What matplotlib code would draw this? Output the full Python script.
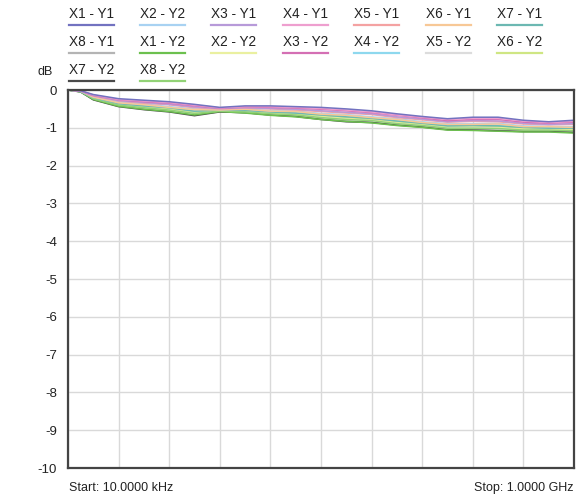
import numpy as np
import matplotlib
matplotlib.use("Agg")
import matplotlib.pyplot as plt
from matplotlib.lines import Line2D

plt.rcParams["font.family"] = ["Liberation Sans", "DejaVu Sans"]

# frequency points in MHz (10 kHz .. 1 GHz, linear sweep)
freq = [0.01, 25, 50, 100, 150, 200, 250, 300, 350, 400, 450, 500,
        550, 600, 650, 700, 750, 800, 850, 900, 950, 1000]

trace_names = ["X1 - Y1", "X2 - Y2", "X3 - Y1", "X4 - Y1", "X5 - Y1", "X6 - Y1", "X7 - Y1",
               "X8 - Y1", "X1 - Y2", "X2 - Y2", "X3 - Y2", "X4 - Y2", "X5 - Y2", "X6 - Y2",
               "X7 - Y2", "X8 - Y2"]
trace_colors = ["#7272c0", "#a8d2f2", "#b79ad9", "#ee9fcf", "#f4a2a2", "#f7c896", "#6cb8b2",
                "#b4b4b4", "#6cc04e", "#eaf0a0", "#d46fb4", "#8ed8ee", "#dcdcdc", "#cfe683",
                "#4a4a4a", "#92d276"]

x1y1 = [0, -0.02, -0.12, -0.23, -0.27, -0.31, -0.38, -0.46, -0.42, -0.42, -0.44, -0.46, -0.50, -0.55, -0.63, -0.70, -0.76, -0.72, -0.72, -0.80, -0.84, -0.80]
x2y2a = [0, -0.03, -0.18, -0.31, -0.37, -0.44, -0.50, -0.52, -0.50, -0.55, -0.56, -0.62, -0.65, -0.71, -0.76, -0.84, -0.89, -0.89, -0.88, -0.95, -0.96, -0.97]
x3y1 = [0, -0.03, -0.15, -0.28, -0.33, -0.38, -0.45, -0.49, -0.47, -0.49, -0.51, -0.55, -0.59, -0.63, -0.71, -0.77, -0.84, -0.81, -0.82, -0.88, -0.91, -0.89]
x4y1 = [0, -0.02, -0.13, -0.25, -0.29, -0.33, -0.40, -0.47, -0.44, -0.44, -0.46, -0.49, -0.53, -0.58, -0.66, -0.72, -0.78, -0.75, -0.75, -0.82, -0.86, -0.83]
x5y1 = [0, -0.03, -0.16, -0.29, -0.35, -0.39, -0.47, -0.50, -0.48, -0.50, -0.53, -0.57, -0.61, -0.65, -0.73, -0.79, -0.85, -0.83, -0.84, -0.90, -0.92, -0.91]
x6y1 = [0, -0.03, -0.19, -0.34, -0.39, -0.46, -0.52, -0.53, -0.51, -0.56, -0.57, -0.64, -0.67, -0.73, -0.78, -0.86, -0.91, -0.91, -0.90, -0.97, -0.97, -0.99]
x7y1 = [0, -0.04, -0.20, -0.36, -0.42, -0.47, -0.56, -0.53, -0.54, -0.58, -0.61, -0.66, -0.71, -0.75, -0.82, -0.88, -0.95, -0.94, -0.95, -0.99, -1.01, -1.01]
x8y1 = [0, -0.05, -0.25, -0.42, -0.50, -0.56, -0.66, -0.57, -0.60, -0.66, -0.69, -0.76, -0.81, -0.85, -0.92, -0.97, -1.04, -1.04, -1.06, -1.08, -1.08, -1.11]
x1y2 = [0, -0.05, -0.25, -0.43, -0.51, -0.57, -0.66, -0.57, -0.61, -0.67, -0.71, -0.78, -0.83, -0.87, -0.94, -0.99, -1.06, -1.07, -1.09, -1.11, -1.11, -1.14]
x2y2b = [0, -0.04, -0.22, -0.37, -0.44, -0.49, -0.58, -0.54, -0.56, -0.60, -0.63, -0.69, -0.74, -0.77, -0.85, -0.90, -0.97, -0.96, -0.98, -1.02, -1.03, -1.04]
x3y2 = [0, -0.02, -0.14, -0.26, -0.31, -0.35, -0.42, -0.48, -0.45, -0.46, -0.48, -0.51, -0.55, -0.60, -0.67, -0.74, -0.81, -0.78, -0.78, -0.85, -0.88, -0.85]
x4y2 = [0, -0.04, -0.20, -0.35, -0.41, -0.46, -0.55, -0.53, -0.53, -0.56, -0.60, -0.65, -0.69, -0.73, -0.81, -0.86, -0.93, -0.92, -0.93, -0.98, -1.00, -1.00]
x5y2 = [0, -0.04, -0.22, -0.38, -0.45, -0.50, -0.60, -0.55, -0.56, -0.61, -0.64, -0.70, -0.75, -0.79, -0.86, -0.92, -0.98, -0.98, -0.99, -1.03, -1.04, -1.05]
x6y2 = [0, -0.04, -0.21, -0.36, -0.43, -0.48, -0.57, -0.54, -0.55, -0.58, -0.62, -0.67, -0.72, -0.76, -0.83, -0.89, -0.95, -0.94, -0.96, -1.00, -1.01, -1.02]
x7y2 = [0, -0.05, -0.26, -0.44, -0.52, -0.58, -0.68, -0.58, -0.60, -0.66, -0.70, -0.78, -0.84, -0.86, -0.93, -0.98, -1.05, -1.06, -1.08, -1.10, -1.10, -1.12]
x8y2 = [0, -0.04, -0.23, -0.40, -0.47, -0.53, -0.62, -0.56, -0.58, -0.63, -0.66, -0.73, -0.78, -0.81, -0.89, -0.94, -1.01, -1.01, -1.02, -1.06, -1.06, -1.08]

traces = [x1y1, x2y2a, x3y1, x4y1, x5y1, x6y1, x7y1, x8y1,
          x1y2, x2y2b, x3y2, x4y2, x5y2, x6y2, x7y2, x8y2]

y_ticks = [0, -1, -2, -3, -4, -5, -6, -7, -8, -9, -10]

W, H = 582, 499
fig = plt.figure(figsize=(W / 100, H / 100), dpi=100)
ax = fig.add_axes([68 / W, 1 - 468 / H, 506 / W, 378 / H])

# draw bottom traces first so the upper ones sit on top
order = [12, 9, 13, 7, 14, 8, 15, 11, 6, 1, 5, 4, 2, 10, 3, 0]
for i in order:
    ax.plot(freq, traces[i], color=trace_colors[i], lw=1.1, solid_joinstyle="round")

ax.set_xlim(0.01, 1000)
ax.set_ylim(-10, 0)
ax.set_xticks(np.linspace(0.01, 1000, 11))
ax.set_xticklabels([])
ax.set_yticks(y_ticks)
ax.set_yticklabels([str(v) for v in y_ticks], fontsize=9.5, color="#222222")
ax.tick_params(axis="both", length=0, pad=8)
ax.grid(True, color="#d9d9d9", lw=1)
ax.set_axisbelow(True)
for s in ax.spines.values():
    s.set_color("#444444")
    s.set_linewidth(1.6)

# legend grid on top
col_x = [69, 140, 211, 283, 354, 426, 497]
row_y = [14, 42, 70]
for k, (name, col) in enumerate(zip(trace_names, trace_colors)):
    r, c = divmod(k, 7)
    x0 = col_x[c] / W
    fig.text(x0, 1 - row_y[r] / H, name, fontsize=9.8, color="#222222", va="center", ha="left")
    yl = 1 - (row_y[r] + 11) / H
    fig.add_artist(Line2D([x0, x0 + 45 / W], [yl, yl], color=col, lw=1.6))

fig.text(37 / W, 1 - 72 / H, "dB", fontsize=9, color="#222222", va="center", ha="left")
fig.text(69 / W, 1 - 488 / H, "Start: 10.0000 kHz", fontsize=9, color="#222222", va="center", ha="left")
fig.text(574 / W, 1 - 488 / H, "Stop: 1.0000 GHz", fontsize=9, color="#222222", va="center", ha="right")

fig.savefig("out.png", dpi=100)
